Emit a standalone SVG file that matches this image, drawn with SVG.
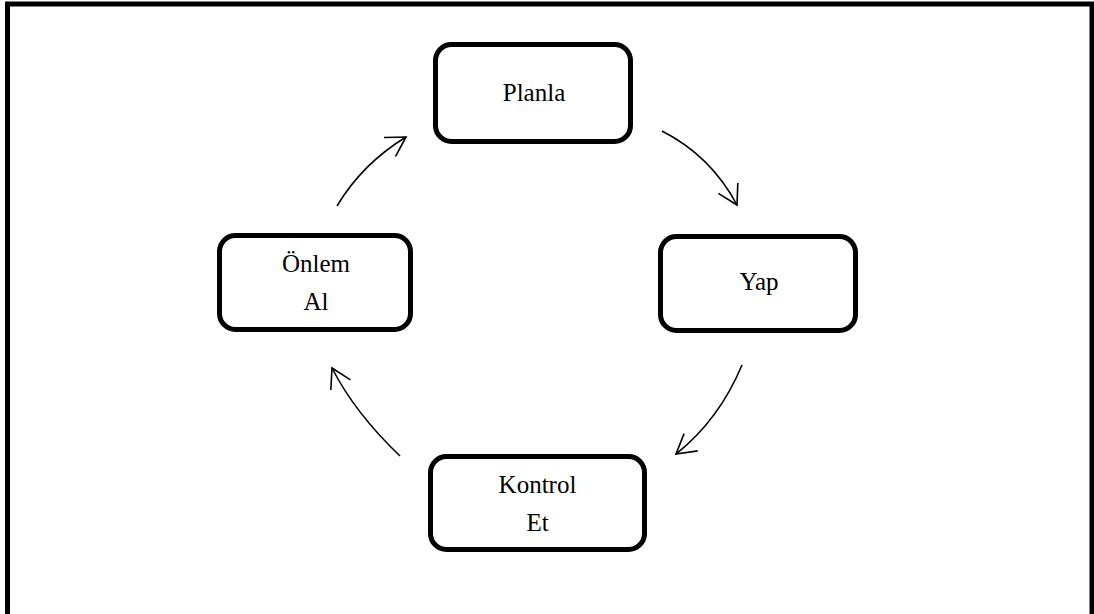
<svg xmlns="http://www.w3.org/2000/svg" width="1094" height="614" viewBox="0 0 1094 614">
  <defs>
    <marker id="arr" markerUnits="userSpaceOnUse" markerWidth="40" markerHeight="40" viewBox="-20 -20 40 40" refX="0" refY="0" orient="auto">
      <path d="M-19,-11 L0,0 L-19,11" fill="none" stroke="#000" stroke-width="1.6" stroke-linejoin="miter"/>
    </marker>
  </defs>
  <style>
    .box { fill: #fff; stroke: #000; stroke-width: 5; }
    .lbl { font-family: "Liberation Serif", "Times New Roman", "DejaVu Serif", serif; font-size: 25px; fill: #000; text-anchor: middle; }
    .conn { fill: none; stroke: #000; stroke-width: 1.6; marker-end: url(#arr); }
  </style>
  <rect x="0" y="0" width="1094" height="614" fill="#fff"/>
  <rect x="7.5" y="4" width="1084.5" height="614" fill="none" stroke="#000" stroke-width="5"/>

  <g id="connectors">
    <path class="conn" d="M662,131 Q711,156 737,205"/>
    <path class="conn" d="M742,365 Q719,420 676,454"/>
    <path class="conn" d="M400,456 Q355,413 332,368"/>
    <path class="conn" d="M337,206 Q362,164 406,137"/>
  </g>

  <g id="node-planla">
    <rect class="box" x="435.5" y="44.5" width="195" height="97" rx="16"/>
    <text class="lbl" x="534" y="101">Planla</text>
  </g>
  <g id="node-yap">
    <rect class="box" x="660.5" y="236.5" width="195" height="94" rx="16"/>
    <text class="lbl" x="759" y="290">Yap</text>
  </g>
  <g id="node-kontrol">
    <rect class="box" x="430.5" y="456.5" width="214" height="93" rx="16"/>
    <text class="lbl" x="537.5" y="493">Kontrol</text>
    <text class="lbl" x="537.5" y="531">Et</text>
  </g>
  <g id="node-onlem">
    <rect class="box" x="219.5" y="235.5" width="191" height="94" rx="16"/>
    <text class="lbl" x="316" y="272">Önlem</text>
    <text class="lbl" x="316" y="310">Al</text>
  </g>
</svg>
